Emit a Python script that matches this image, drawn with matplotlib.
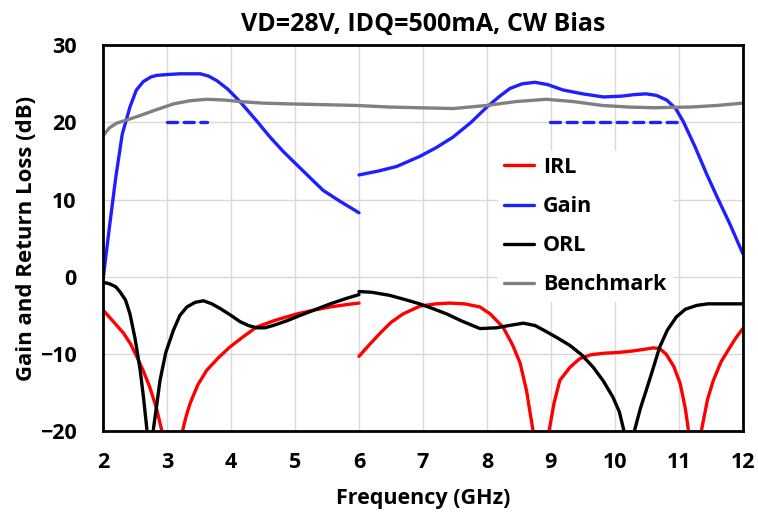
import numpy as np
import matplotlib
matplotlib.use("Agg")
import matplotlib.pyplot as plt

plt.rcParams['font.family'] = ['Open Sans', 'DejaVu Sans']
plt.rcParams['font.weight'] = 'bold'

# Gain (two bands)
gain1_f = [2.0, 2.1, 2.2, 2.3, 2.42, 2.52, 2.63, 2.75, 2.84, 3.0, 3.2, 3.4, 3.52, 3.65, 3.78,
           3.95, 4.14, 4.4, 4.61, 4.82, 5.03, 5.24, 5.44, 5.7, 6.0]
gain1_db = [-0.3, 6.5, 13.0, 18.5, 22.0, 24.2, 25.3, 25.9, 26.1, 26.2, 26.3, 26.3, 26.3, 26.0, 25.4,
            24.3, 22.7, 20.2, 18.1, 16.2, 14.5, 12.8, 11.2, 9.8, 8.3]
gain2_f = [6.0, 6.3, 6.59, 6.95, 7.2, 7.47, 7.75, 8.0, 8.2, 8.36, 8.55, 8.75, 8.95, 9.19, 9.5,
           9.82, 10.1, 10.3, 10.49, 10.65, 10.81, 10.95, 11.07, 11.25, 11.43, 11.6, 11.8, 12.0]
gain2_db = [13.2, 13.7, 14.3, 15.6, 16.7, 18.1, 20.0, 22.0, 23.4, 24.4, 25.0, 25.2, 24.9, 24.2, 23.7,
            23.3, 23.4, 23.6, 23.7, 23.5, 22.9, 21.8, 20.1, 16.9, 13.4, 10.3, 6.8, 3.0]

# Gain spec lines (dashed)
spec1_f = [3.0, 3.62]
spec2_f = [8.98, 11.06]
spec_db = [20, 20]

# Benchmark
bench_f = [2.0, 2.1, 2.21, 2.4, 2.58, 2.85, 3.1, 3.35, 3.62, 3.9, 4.14, 4.5, 4.92, 5.45, 5.96,
           6.45, 6.95, 7.47, 8.0, 8.45, 8.93, 9.35, 9.8, 10.2, 10.6, 11.2, 11.6, 12.0]
bench_db = [18.3, 19.3, 19.9, 20.4, 20.9, 21.7, 22.4, 22.8, 23.0, 22.9, 22.7, 22.5, 22.4, 22.3, 22.2,
            22.0, 21.9, 21.8, 22.2, 22.7, 23.0, 22.7, 22.2, 22.0, 21.9, 22.0, 22.2, 22.5]

# IRL (two bands)
irl1_f = [2.0, 2.15, 2.32, 2.43, 2.53, 2.63, 2.73, 2.83, 2.92, 3.0, 3.08, 3.16, 3.24, 3.3, 3.36,
          3.48, 3.62, 3.8, 3.98, 4.2, 4.4, 4.7, 5.03, 5.3, 5.55, 5.8, 6.0]
irl1_db = [-4.3, -5.7, -7.3, -8.7, -10.4, -12.2, -14.3, -16.9, -20.0, -23.0, -25.0, -23.0, -20.0, -18.0, -16.4,
           -14.0, -12.1, -10.5, -9.1, -7.7, -6.5, -5.6, -4.8, -4.3, -3.9, -3.6, -3.4]
irl2_f = [6.0, 6.15, 6.33, 6.5, 6.69, 6.95, 7.2, 7.42, 7.65, 7.89, 8.05, 8.25, 8.4, 8.52, 8.62,
          8.72, 8.8, 8.88, 8.97, 9.05, 9.14, 9.3, 9.45, 9.62, 9.82, 10.05, 10.28, 10.45, 10.6, 10.7,
          10.8, 10.92, 11.02, 11.1, 11.15, 11.25, 11.35, 11.45, 11.54, 11.66, 11.8, 11.9, 12.0]
irl2_db = [-10.3, -8.9, -7.3, -5.9, -4.8, -3.8, -3.5, -3.4, -3.5, -3.9, -4.8, -6.5, -8.8, -11.2, -14.8,
           -19.9, -23.5, -24.0, -20.0, -16.3, -13.4, -11.7, -10.6, -10.1, -9.9, -9.8, -9.6, -9.4, -9.2, -9.3,
           -10.0, -11.6, -13.8, -17.0, -19.9, -24.0, -20.0, -15.8, -13.4, -11.0, -9.1, -7.8, -6.7]

# ORL (two bands)
orl1_f = [2.0, 2.1, 2.2, 2.27, 2.35, 2.42, 2.5, 2.58, 2.63, 2.68, 2.72, 2.76, 2.79, 2.84, 2.89, 2.98,
          3.1, 3.2, 3.31, 3.44, 3.57, 3.7, 3.83, 4.0, 4.14, 4.27, 4.4, 4.53, 4.66, 4.87, 5.08,
          5.3, 5.55, 5.8, 6.0]
orl1_db = [-0.7, -0.9, -1.3, -2.0, -3.0, -4.8, -8.0, -12.1, -15.5, -19.4, -22.5, -22.0, -19.5, -16.5, -13.4, -9.8,
           -6.9, -5.0, -3.9, -3.3, -3.1, -3.5, -4.1, -5.0, -5.8, -6.3, -6.6, -6.6, -6.3, -5.7, -5.0,
           -4.3, -3.5, -2.8, -2.3]
orl2_f = [6.0, 6.2, 6.48, 6.7, 6.95, 7.15, 7.37, 7.6, 7.89, 8.15, 8.35, 8.57, 8.75, 8.93, 9.1,
          9.3, 9.48, 9.66, 9.82, 9.97, 10.07, 10.14, 10.2, 10.26, 10.31, 10.4, 10.49, 10.6, 10.7, 10.82,
          10.96, 11.1, 11.28, 11.45, 11.64, 11.8, 12.0]
orl2_db = [-1.9, -2.0, -2.4, -2.9, -3.5, -4.1, -4.8, -5.7, -6.7, -6.6, -6.3, -6.0, -6.3, -7.1, -7.9,
           -8.9, -10.1, -11.7, -13.5, -15.6, -17.5, -19.9, -22.0, -21.5, -19.8, -17.0, -14.7, -11.8, -9.1, -6.9,
           -5.2, -4.2, -3.7, -3.5, -3.5, -3.5, -3.5]

red = '#ff0000'
blue = '#1f1fff'
gray = '#808080'
lw = 2.4

fig, ax = plt.subplots(figsize=(7.58, 5.14), dpi=100)
fig.subplots_adjust(left=0.136, right=0.98, top=0.912, bottom=0.161)

l_irl, = ax.plot(irl1_f, irl1_db, color=red, lw=lw, label='IRL', solid_capstyle='round', solid_joinstyle='round')
ax.plot(irl2_f, irl2_db, color=red, lw=lw, solid_capstyle='round', solid_joinstyle='round')
l_gain, = ax.plot(gain1_f, gain1_db, color=blue, lw=lw, label='Gain', solid_capstyle='round', solid_joinstyle='round')
ax.plot(gain2_f, gain2_db, color=blue, lw=lw, solid_capstyle='round', solid_joinstyle='round')
ax.plot(spec1_f, spec_db, color=blue, lw=lw, ls=(0, (3, 2)), dash_capstyle='round')
ax.plot(spec2_f, spec_db, color=blue, lw=lw, ls=(0, (3, 2)), dash_capstyle='round')
l_orl, = ax.plot(orl1_f, orl1_db, color='black', lw=lw, label='ORL', solid_capstyle='round', solid_joinstyle='round')
ax.plot(orl2_f, orl2_db, color='black', lw=lw, solid_capstyle='round', solid_joinstyle='round')
l_bench, = ax.plot(bench_f, bench_db, color=gray, lw=lw, label='Benchmark', solid_capstyle='round', solid_joinstyle='round')

ax.set_xlim(2, 12)
ax.set_ylim(-20, 30)
ax.set_xticks(range(2, 13))
ax.set_yticks(range(-20, 31, 10))
ax.grid(True, color='#d9d9d9', lw=1)
ax.set_axisbelow(True)
for s in ax.spines.values():
    s.set_linewidth(2)
ax.tick_params(axis='x', length=0, labelsize=15.5, pad=15)
ax.tick_params(axis='y', length=0, labelsize=15.5, pad=19)
for t in ax.get_xticklabels() + ax.get_yticklabels():
    t.set_fontweight('bold')

ax.set_title('VD=28V, IDQ=500mA, CW Bias', fontsize=18, fontweight='bold', pad=10)
ax.set_xlabel('Frequency (GHz)', fontsize=15.5, fontweight='bold', labelpad=11)
ax.set_ylabel('Gain and Return Loss (dB)', fontsize=16, fontweight='bold', labelpad=2)

leg = ax.legend(handles=[l_irl, l_gain, l_orl, l_bench], loc='upper left',
                bbox_to_anchor=(0.6, 0.755), frameon=True, fancybox=False,
                edgecolor='none', facecolor='white', framealpha=1,
                prop={'size': 15.5, 'weight': 'bold'}, handlelength=1.4,
                handletextpad=0.4, labelspacing=0.84, borderpad=0.3)

fig.savefig('out.png', dpi=100)
